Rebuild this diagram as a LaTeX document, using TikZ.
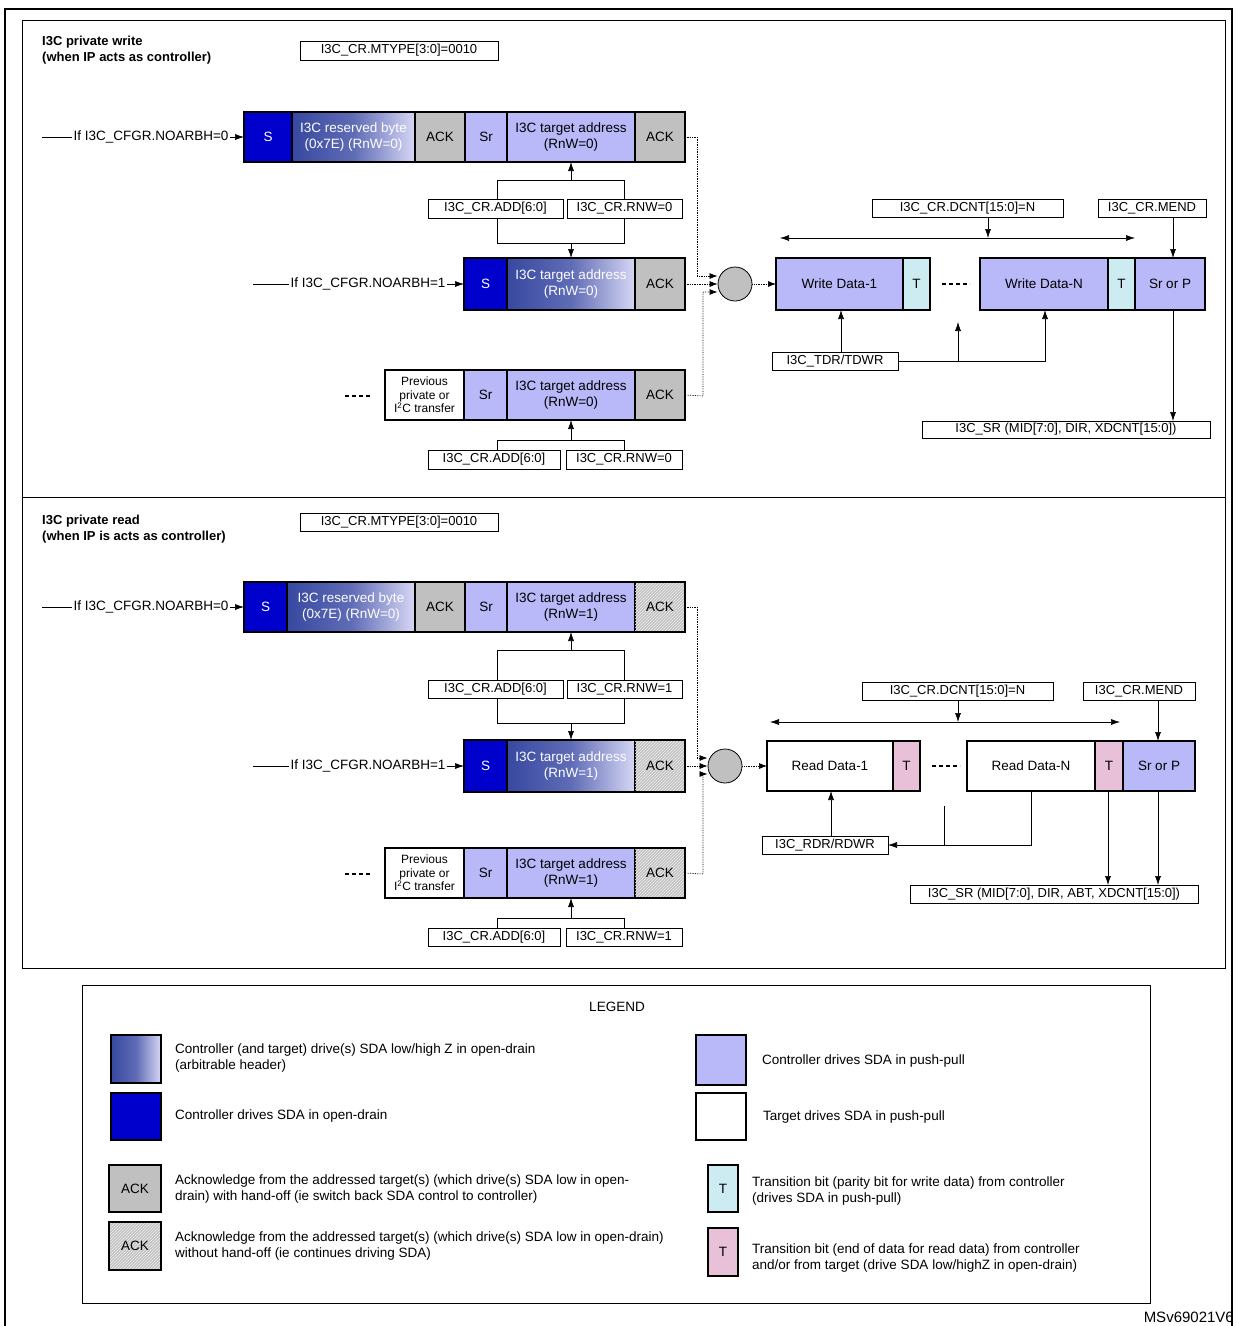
\documentclass[tikz,border=0pt]{standalone}
\usepackage{fontspec}
\setmainfont{Liberation Sans}
\usetikzlibrary{arrows.meta,patterns,calc}
\definecolor{sblue}{RGB}{0,0,204}
\definecolor{gdark}{RGB}{55,72,160}
\definecolor{glight}{RGB}{215,215,245}
\definecolor{lav}{RGB}{185,185,250}
\definecolor{ackg}{RGB}{192,192,192}
\definecolor{tcyan}{RGB}{204,236,242}
\definecolor{tpink}{RGB}{232,192,216}
\tikzset{
 seg/.style={draw,line width=1.2pt,inner sep=0pt,outer sep=0pt,align=center,font=\fontsize{13.5}{15.5}\selectfont},
 sS/.style={fill=sblue,text=white},
 sG/.style={left color=gdark,right color=glight,middle color=gdark!75!glight,text=white},
 sL/.style={fill=lav},
 sA/.style={fill=ackg},
 sH/.style={fill=ackg,postaction={pattern=north east lines,pattern color=white!80!ackg}},
 sW/.style={fill=white},
 sC/.style={fill=tcyan},
 sP/.style={fill=tpink},
 prv/.style={fill=white,font=\fontsize{12}{13.5}\selectfont},
 lbl/.style={draw,line width=0.6pt,fill=white,inner sep=0pt,outer sep=0pt,font=\fontsize{13}{14}\selectfont},
 iff/.style={font=\fontsize{13.5}{14}\selectfont,inner sep=1pt},
 arr/.style={-{Latex[length=9pt,width=6pt]},line width=0.6pt},
 ln/.style={line width=0.6pt},
 dot/.style={densely dotted,line width=0.7pt,-{Latex[length=8pt,width=6pt]}},
 outer/.style={line width=2.6pt},
 ttl/.style={font=\fontsize{13}{16}\selectfont\bfseries,align=left,anchor=north west,inner sep=0pt},
 ltx/.style={font=\fontsize{13.5}{16}\selectfont,align=left,anchor=west,inner sep=0pt},
}
\newcommand\seg[7]{\node[seg,#6,minimum width={(#3-#2)*1pt},minimum height={(#5-#4)*1pt}] (#1) at ({(#2+#3)/2},{(#4+#5)/2}) {#7};}
\newcommand\lb[6]{\node[lbl,minimum width={(#3-#2)*1pt},minimum height={(#5-#4)*1pt}] (#1) at ({(#2+#3)/2},{(#4+#5)/2}) {#6};}
\begin{document}
\begin{tikzpicture}[x=1pt,y=-1pt]
\useasboundingbox (0,0) rectangle (1235,1326);
% frames
\draw[line width=1.6pt] (5,1330) -- (5,9) -- (1232,9) -- (1232,1330);
\draw[line width=0.8pt] (22,20) rectangle (1225,968);
\draw[line width=0.8pt] (22,497) -- (1225,497);

% ================= PANEL 1 =================
\node[ttl] (ttl1) at (42,36) {I3C private write\\(when IP acts as controller)};
\lb{mt1}{300}{498}{41}{60}{I3C\_CR.MTYPE[3:0]=0010}
\seg{aS1}{244}{292}{112}{162}{sS}{S}
\seg{aR1}{292}{415}{112}{162}{sG}{I3C reserved byte\\(0x7E) (RnW=0)}
\seg{aA1}{415}{465}{112}{162}{sA}{ACK}
\seg{aSr1}{465}{507}{112}{162}{sL}{Sr}
\seg{aT1}{507}{635}{112}{162}{sL}{I3C target address\\(RnW=0)}
\seg{aK1}{635}{685}{112}{162}{sA}{ACK}
\draw[outer] (aS1.north west) rectangle (aK1.south east);
\coordinate (ia1) at (42,137);
\node[iff] (ta1) at (151,137) {If I3C\_CFGR.NOARBH=0};
\draw[ln] (ia1) -- (ta1.west); \draw[arr] (ta1.east) -- (aS1.west);
\lb{ad1}{428}{563}{199}{218}{I3C\_CR.ADD[6:0]}
\lb{rw1}{567}{682}{199}{218}{I3C\_CR.RNW=0}
\draw[ln] (497,199) -- (497,180) -- (624,180) -- (624,199);
\draw[ln] (497,218) -- (497,243) -- (624,243) -- (624,218);
\coordinate (fu1) at (571,180); \coordinate (fd1) at (571,243);
\seg{bS1}{464}{507}{258}{310}{sS}{S}
\seg{bT1}{507}{635}{258}{310}{sG}{I3C target address\\(RnW=0)}
\seg{bK1}{635}{685}{258}{310}{sA}{ACK}
\draw[outer] (bS1.north west) rectangle (bK1.south east);
\draw[arr] (fu1) -- (aT1.south);
\draw[arr] (fd1) -- (bT1.north);
\coordinate (ib1) at (253,284);
\node[iff] (tb1) at (368,284) {If I3C\_CFGR.NOARBH=1};
\draw[ln] (ib1) -- (tb1.west); \draw[arr] (tb1.east) -- (bS1.west);
\seg{cP1}{385}{464}{370}{420}{prv}{Previous\\private or\\I\textsuperscript{2}C transfer}
\seg{cSr1}{464}{507}{370}{420}{sL}{Sr}
\seg{cT1}{507}{635}{370}{420}{sL}{I3C target address\\(RnW=0)}
\seg{cK1}{635}{685}{370}{420}{sA}{ACK}
\draw[outer] (cP1.north west) rectangle (cK1.south east);
\coordinate (d1a) at (345,396); \coordinate (d1b) at (372,396);
\draw[line width=1.6pt,dash pattern=on 4pt off 3pt] (d1a) -- (d1b);
\lb{ad1b}{428}{560}{450}{469}{I3C\_CR.ADD[6:0]}
\lb{rw1b}{566}{682}{450}{469}{I3C\_CR.RNW=0}
\draw[ln] (497,450) -- (497,440) -- (624,440) -- (624,450);
\coordinate (fc1) at (571,440);
\draw[arr] (fc1) -- (cT1.south);
\node[circle,draw,fill=ackg,minimum size=34pt,inner sep=0pt,line width=0.8pt] (m1) at (735,284) {};
\draw[dot] (aK1.east) -- (697,137) -- (697,276) -- ($(m1.center)+(-17.5,-8)$);
\draw[dot] (bK1.east) -- (m1.west);
\draw[dot] (cK1.east) -- (703,396) -- (703,292) -- ($(m1.center)+(-17.5,8)$);
\seg{w1}{776}{903}{258}{310}{sL}{Write Data-1}
\seg{wt1}{903}{930}{258}{310}{sC}{T}
\seg{wn}{980}{1108}{258}{310}{sL}{Write Data-N}
\seg{wtn}{1108}{1135}{258}{310}{sC}{T}
\seg{wp}{1135}{1205}{258}{310}{sL}{Sr or P}
\draw[outer] (w1.north west) rectangle (wt1.south east);
\draw[outer] (wn.north west) rectangle (wp.south east);
\draw[dot] (m1.east) -- (w1.west);
\coordinate (wd1) at (942,284); \coordinate (wd2) at (970,284);
\draw[line width=1.6pt,dash pattern=on 4pt off 3pt] (wd1) -- (wd2);
\lb{dc1}{872}{1063}{199}{217}{I3C\_CR.DCNT[15:0]=N}
\lb{me1}{1098}{1206}{199}{217}{I3C\_CR.MEND}
\coordinate (da1) at (780,238); \coordinate (da2) at (1135,238);
\draw[{Latex[length=9pt,width=6pt]}-{Latex[length=9pt,width=6pt]},line width=0.6pt] (da1) -- (da2);
\draw[arr] (dc1.south -| 988,0) -- (988,238);
\draw[arr] (me1.south -| 1173,0) -- (wp.north -| 1173,0);
\lb{td1}{772}{898}{352}{370}{I3C\_TDR/TDWR}
\draw[arr] (td1.north -| 841,0) -- (w1.south -| 841,0);
\draw[arr] (td1.east) -- (1045,361) -- (wn.south -| 1045,0);
\coordinate (tu1) at (958,322);
\draw[arr] (958,361) -- (tu1);
\lb{sr1}{922}{1210}{421}{438}{I3C\_SR (MID[7:0], DIR, XDCNT[15:0])}
\draw[arr] (wp.south -| 1173,0) -- (sr1.north -| 1173,0);

% ================= PANEL 2 =================
\node[ttl] (ttl2) at (42,515) {I3C private read\\(when IP is acts as controller)};
\lb{mt2}{300}{498}{513}{531}{I3C\_CR.MTYPE[3:0]=0010}
\seg{aS2}{244}{287}{582}{632}{sS}{S}
\seg{aR2}{287}{415}{582}{632}{sG}{I3C reserved byte\\(0x7E) (RnW=0)}
\seg{aA2}{415}{465}{582}{632}{sA}{ACK}
\seg{aSr2}{465}{507}{582}{632}{sL}{Sr}
\seg{aT2}{507}{635}{582}{632}{sL}{I3C target address\\(RnW=1)}
\seg{aK2}{635}{685}{582}{632}{sH}{ACK}
\draw[outer] (aS2.north west) rectangle (aK2.south east);
\coordinate (ia2) at (42,607);
\node[iff] (ta2) at (151,607) {If I3C\_CFGR.NOARBH=0};
\draw[ln] (ia2) -- (ta2.west); \draw[arr] (ta2.east) -- (aS2.west);
\lb{ad2}{428}{563}{680}{698}{I3C\_CR.ADD[6:0]}
\lb{rw2}{567}{682}{680}{698}{I3C\_CR.RNW=1}
\draw[ln] (497,680) -- (497,650) -- (624,650) -- (624,680);
\draw[ln] (497,698) -- (497,723) -- (624,723) -- (624,698);
\coordinate (fu2) at (571,650); \coordinate (fd2) at (571,723);
\seg{bS2}{464}{507}{740}{792}{sS}{S}
\seg{bT2}{507}{635}{740}{792}{sG}{I3C target address\\(RnW=1)}
\seg{bK2}{635}{685}{740}{792}{sH}{ACK}
\draw[outer] (bS2.north west) rectangle (bK2.south east);
\draw[arr] (fu2) -- (aT2.south);
\draw[arr] (fd2) -- (bT2.north);
\coordinate (ib2) at (253,766);
\node[iff] (tb2) at (368,766) {If I3C\_CFGR.NOARBH=1};
\draw[ln] (ib2) -- (tb2.west); \draw[arr] (tb2.east) -- (bS2.west);
\seg{cP2}{385}{464}{848}{898}{prv}{Previous\\private or\\I\textsuperscript{2}C transfer}
\seg{cSr2}{464}{507}{848}{898}{sL}{Sr}
\seg{cT2}{507}{635}{848}{898}{sL}{I3C target address\\(RnW=1)}
\seg{cK2}{635}{685}{848}{898}{sH}{ACK}
\draw[outer] (cP2.north west) rectangle (cK2.south east);
\coordinate (d2a) at (345,874); \coordinate (d2b) at (372,874);
\draw[line width=1.6pt,dash pattern=on 4pt off 3pt] (d2a) -- (d2b);
\lb{ad2b}{428}{560}{928}{946}{I3C\_CR.ADD[6:0]}
\lb{rw2b}{566}{682}{928}{946}{I3C\_CR.RNW=1}
\draw[ln] (497,928) -- (497,918) -- (624,918) -- (624,928);
\coordinate (fc2) at (571,918);
\draw[arr] (fc2) -- (cT2.south);
\node[circle,draw,fill=ackg,minimum size=34pt,inner sep=0pt,line width=0.8pt] (m2) at (725,766) {};
\draw[dot] (aK2.east) -- (697,607) -- (697,758) -- ($(m2.center)+(-17.5,-8)$);
\draw[dot] (bK2.east) -- (m2.west);
\draw[dot] (cK2.east) -- (703,874) -- (703,774) -- ($(m2.center)+(-17.5,8)$);
\seg{r1}{767}{893}{741}{791}{sW}{Read Data-1}
\seg{rt1}{893}{920}{741}{791}{sP}{T}
\seg{rn}{967}{1095}{741}{791}{sW}{Read Data-N}
\seg{rtn}{1095}{1123}{741}{791}{sP}{T}
\seg{rp}{1123}{1195}{741}{791}{sL}{Sr or P}
\draw[outer] (r1.north west) rectangle (rt1.south east);
\draw[outer] (rn.north west) rectangle (rp.south east);
\draw[dot] (m2.east) -- (r1.west);
\coordinate (rd1) at (932,766); \coordinate (rd2) at (960,766);
\draw[line width=1.6pt,dash pattern=on 4pt off 3pt] (rd1) -- (rd2);
\lb{dc2}{862}{1053}{682}{700}{I3C\_CR.DCNT[15:0]=N}
\lb{me2}{1083}{1195}{682}{700}{I3C\_CR.MEND}
\coordinate (db1) at (770,722); \coordinate (db2) at (1120,722);
\draw[{Latex[length=9pt,width=6pt]}-{Latex[length=9pt,width=6pt]},line width=0.6pt] (db1) -- (db2);
\draw[arr] (dc2.south -| 958,0) -- (958,722);
\draw[arr] (me2.south -| 1158,0) -- (rp.north -| 1158,0);
\lb{rd}{762}{888}{836}{854}{I3C\_RDR/RDWR}
\draw[arr] (rd.north -| 831,0) -- (r1.south -| 831,0);
\draw[arr] (rn.south -| 1031,0) -- (1031,845) -- (rd.east);
\coordinate (rb) at (944,806);
\draw[ln] (rb) -- (944,845);
\lb{sr2}{910}{1198}{885}{903}{I3C\_SR (MID[7:0], DIR, ABT, XDCNT[15:0])}
\draw[arr] (rtn.south -| 1108,0) -- (sr2.north -| 1108,0);
\draw[arr] (rp.south -| 1158,0) -- (sr2.north -| 1158,0);

% ================= LEGEND =================
\draw[line width=0.8pt] (82,985) rectangle (1150,1303);
\node[font=\fontsize{13.5}{14}\selectfont] (lg) at (617,1007) {LEGEND};
\seg{l1}{111}{161}{1035}{1083}{sG}{}
\draw[outer] (l1.north west) rectangle (l1.south east);
\node[ltx] (l1t) at (175,1058) {Controller (and target) drive(s) SDA low/high Z in open-drain\\(arbitrable header)};
\seg{l2}{111}{161}{1093}{1140}{sS}{}
\draw[outer] (l2.north west) rectangle (l2.south east);
\node[ltx] (l2t) at (175,1116) {Controller drives SDA in open-drain};
\seg{l3}{109}{161}{1165}{1212}{sA}{ACK}
\draw[outer] (l3.north west) rectangle (l3.south east);
\node[ltx] (l3t) at (175,1189) {Acknowledge from the addressed target(s) (which drive(s) SDA low in open-\\drain) with hand-off (ie switch back SDA control to controller)};
\seg{l4}{109}{161}{1222}{1270}{sH}{ACK}
\draw[outer] (l4.north west) rectangle (l4.south east);
\node[ltx] (l4t) at (175,1246) {Acknowledge from the addressed target(s) (which drive(s) SDA low in open-drain)\\without hand-off (ie continues driving SDA)};
\seg{l5}{696}{746}{1035}{1085}{sL}{}
\draw[outer] (l5.north west) rectangle (l5.south east);
\node[ltx] (l5t) at (762,1061) {Controller drives SDA in push-pull};
\seg{l6}{696}{746}{1093}{1140}{sW}{}
\draw[outer] (l6.north west) rectangle (l6.south east);
\node[ltx] (l6t) at (763,1117) {Target drives SDA in push-pull};
\seg{l7}{708}{738}{1165}{1212}{sC}{T}
\draw[outer] (l7.north west) rectangle (l7.south east);
\node[ltx] (l7t) at (752,1191) {Transition bit (parity bit for write data) from controller\\(drives SDA in push-pull)};
\seg{l8}{708}{738}{1228}{1276}{sP}{T}
\draw[outer] (l8.north west) rectangle (l8.south east);
\node[ltx] (l8t) at (752,1258) {Transition bit (end of data for read data) from controller\\and/or from target (drive SDA low/highZ in open-drain)};
\node[font=\fontsize{15}{16}\selectfont,anchor=east,inner sep=1pt] (ms) at (1235,1317) {MSv69021V6};
\end{tikzpicture}
\end{document}
